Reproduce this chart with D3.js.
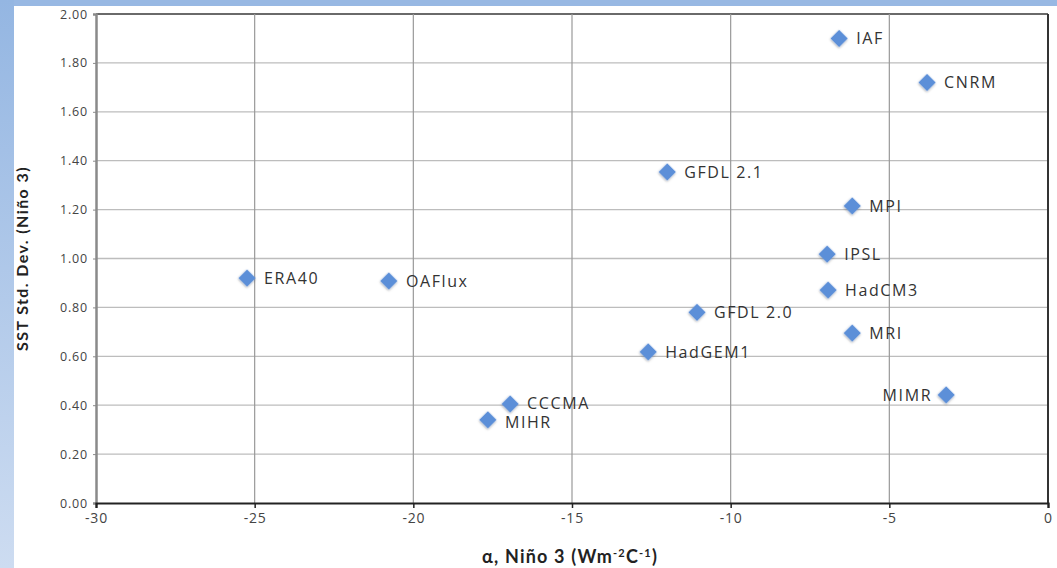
<!DOCTYPE html>
<html><head><meta charset="utf-8">
<script src="https://cdn.jsdelivr.net/npm/d3@7"></script>
<style>body{margin:0;background:#fff;}svg{display:block;}</style>
</head><body>
<script>
const models = ["IAF","CNRM","GFDL 2.1","MPI","IPSL","HadCM3","ERA40","OAFlux","GFDL 2.0","MRI","HadGEM1","MIMR","CCCMA","MIHR"];
const alphaValues = [-6.58,-3.81,-12.0,-6.17,-6.96,-6.93,-25.24,-20.77,-11.06,-6.17,-12.6,-3.21,-16.95,-17.65];
const sstStdDev = [1.90,1.72,1.354,1.215,1.018,0.871,0.92,0.908,0.78,0.695,0.618,0.442,0.405,0.34];
const labelSide = ["r","r","r","r","r","r","r","r","r","r","r","l","r","r"];
const xTicks = [-30,-25,-20,-15,-10,-5,0];
const yTicks = [0,0.2,0.4,0.6,0.8,1.0,1.2,1.4,1.6,1.8,2.0];

const W=1057,H=568;
const FONT="'Open Sans', Lato, sans-serif";
const svg=d3.select("body").append("svg").attr("width",W).attr("height",H);
const defs=svg.append("defs");
const lg=defs.append("linearGradient").attr("id","lbar").attr("x1",0).attr("y1",0).attr("x2",0).attr("y2",1);
lg.append("stop").attr("offset","0%").attr("stop-color","#94b6e2");
lg.append("stop").attr("offset","100%").attr("stop-color","#cddcf1");
const f=defs.append("filter").attr("id","sh").attr("x","-50%").attr("y","-50%").attr("width","200%").attr("height","200%");
f.append("feDropShadow").attr("dx",0.5).attr("dy",1).attr("stdDeviation",1.2).attr("flood-color","#000").attr("flood-opacity",0.35);

svg.append("rect").attr("x",0).attr("y",0).attr("width",W).attr("height",6).attr("fill","#98b8e3");
svg.append("rect").attr("x",0).attr("y",0).attr("width",14).attr("height",H).attr("fill","url(#lbar)");

const L=96,R=1048,T=14,B=503;
const x=d3.scaleLinear().domain([-30,0]).range([L,R]);
const y=d3.scaleLinear().domain([0,2]).range([B,T]);

// gridlines
svg.append("g").selectAll("line").data(yTicks.filter(d=>d>0)).join("line")
 .attr("x1",L).attr("x2",R).attr("y1",d=>y(d)).attr("y2",d=>y(d))
 .attr("stroke",d=>d===2?"#6a6a6a":"#bdbdbd").attr("stroke-width",d=>d===2?1.8:1.3);
svg.append("g").selectAll("line").data(xTicks.filter(d=>d>-30)).join("line")
 .attr("x1",d=>x(d)).attr("x2",d=>x(d)).attr("y1",T).attr("y2",B)
 .attr("stroke",d=>d===0?"#333":"#999").attr("stroke-width",d=>d===0?2:1.2);

// left axis
const ya=svg.append("g").attr("transform",`translate(${L},0)`).call(d3.axisLeft(y).tickValues(yTicks).tickFormat(d3.format(".2f")).tickSize(3));
ya.select(".domain").attr("stroke","#8a8a8a").attr("stroke-width",2.5);
ya.selectAll(".tick line").attr("stroke","#8a8a8a");
ya.selectAll("text").attr("font-family",FONT).attr("font-size",12.5).attr("letter-spacing",0.8).attr("fill","#444").attr("x",-8);

// bottom axis
const xa=svg.append("g").attr("transform",`translate(0,${B})`).call(d3.axisBottom(x).tickValues(xTicks).tickFormat(d=>d===0?"0":String(d)).tickSize(5));
xa.select(".domain").attr("stroke","#222").attr("stroke-width",2.2);
xa.selectAll(".tick line").attr("stroke","#222").attr("stroke-width",1.5);
xa.selectAll("text").attr("font-family",FONT).attr("font-size",14).attr("letter-spacing",0.8).attr("fill","#444").attr("y",10);

// titles
svg.append("text").attr("transform",`translate(28,${(T+B)/2}) rotate(-90)`).attr("text-anchor","middle")
 .attr("font-family","Lato, 'Open Sans', sans-serif").attr("font-weight","bold").attr("font-size",16).attr("letter-spacing",1.4).attr("fill","#222")
 .text("SST Std. Dev. (Niño 3)");
const xt=svg.append("text").attr("x",(L+R)/2-2).attr("y",563).attr("text-anchor","middle")
 .attr("font-family","Lato, 'Open Sans', sans-serif").attr("font-weight","bold").attr("font-size",18).attr("letter-spacing",1.2).attr("fill","#222");
xt.append("tspan").text("α, Niño 3 (Wm");
xt.append("tspan").attr("dy",-6).attr("font-size",11).text("-2");
xt.append("tspan").attr("dy",6).text("C");
xt.append("tspan").attr("dy",-6).attr("font-size",11).text("-1");
xt.append("tspan").attr("dy",6).text(")");

// points
const data=models.map((m,i)=>({m,a:alphaValues[i],s:sstStdDev[i],side:labelSide[i]}));
const g=svg.append("g");
g.selectAll("path").data(data).join("path")
 .attr("d",d3.symbol(d3.symbolSquare,150)())
 .attr("transform",d=>`translate(${x(d.a)},${y(d.s)}) rotate(45)`)
 .attr("fill","#5b8fd8").attr("filter","url(#sh)");
g.selectAll("text").data(data).join("text")
 .attr("x",d=>d.side==="r"?x(d.a)+17:x(d.a)-14)
 .attr("y",d=>y(d.s)+6 + (d.m==="MIHR"?2:0) + (d.m==="CCCMA"?-1:0))
 .attr("text-anchor",d=>d.side==="r"?"start":"end")
 .attr("font-family",FONT).attr("font-size",16).attr("letter-spacing",1.6).attr("fill","#333")
 .text(d=>d.m);
</script>
</body></html>
